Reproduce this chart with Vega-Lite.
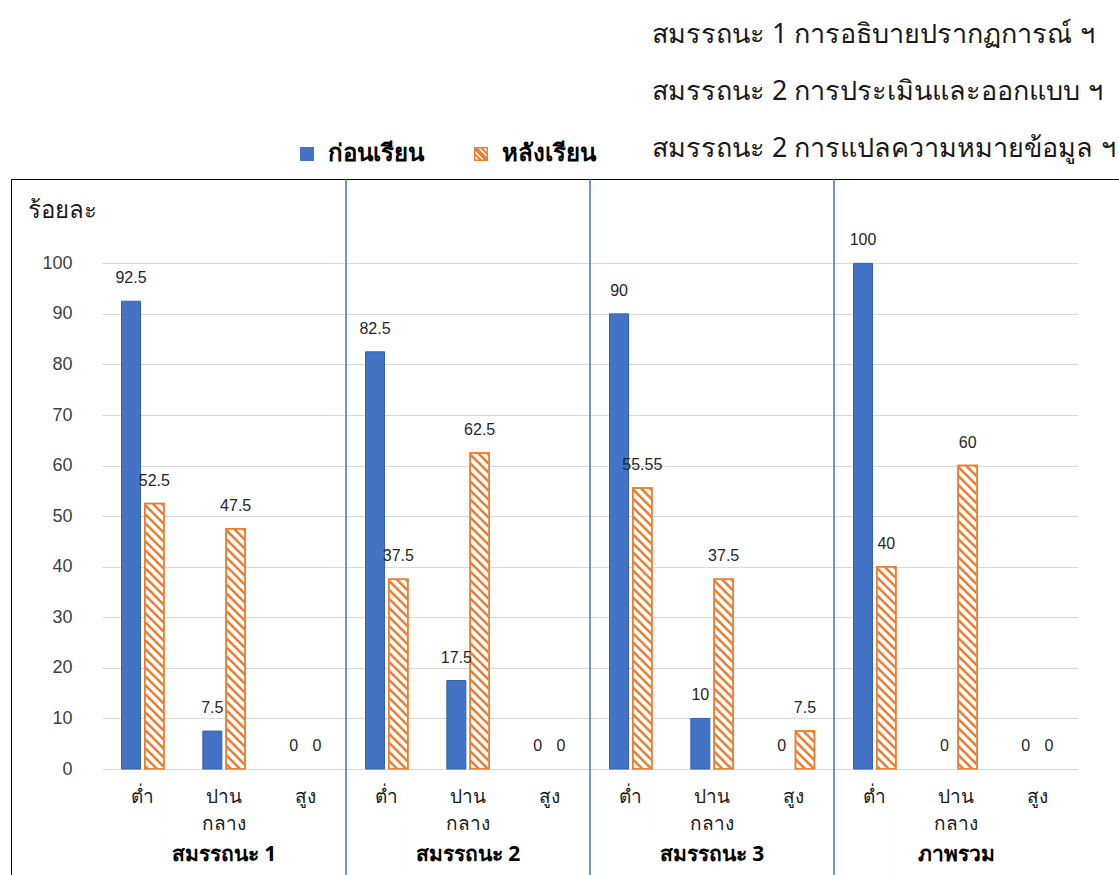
{
  "$schema": "https://vega.github.io/schema/vega-lite/v6.json",
  "width": 1108,
  "height": 696,
  "autosize": "none",
  "padding": {"left": 11, "top": 179, "right": 0, "bottom": 0},
  "background": "#ffffff",
  "config": {
    "view": {"stroke": "#000000", "strokeWidth": 1},
    "font": "Noto Sans",
    "text": {"font": "Liberation Sans"},
    "legend": {
      "orient": "none",
      "legendX": 284,
      "legendY": -37,
      "direction": "horizontal",
      "symbolSize": 196,
      "symbolStrokeWidth": 0,
      "labelFont": "Noto Sans",
      "labelFontSize": 24,
      "labelFontWeight": "bold",
      "labelColor": "#000000",
      "labelOffset": 9,
      "columnPadding": 45
    }
  },
  "title": {
    "text": [
      "สมรรถนะ 1 การอธิบายปรากฏการณ์ ฯ",
      "สมรรถนะ 2 การประเมินและออกแบบ ฯ",
      "สมรรถนะ 2 การแปลความหมายข้อมูล ฯ"
    ],
    "anchor": "start",
    "frame": "group",
    "orient": "top",
    "dx": 641,
    "dy": 69,
    "offset": 27,
    "baseline": "alphabetic",
    "fontSize": 27,
    "fontWeight": "normal",
    "font": "Noto Sans",
    "color": "#1a1a1a",
    "lineHeight": 57
  },
  "datasets": {
    "scores": [
      {"cat": "สมรรถนะ 1|ต่ำ", "series": "ก่อนเรียน", "value": 92.5},
      {"cat": "สมรรถนะ 1|ต่ำ", "series": "หลังเรียน", "value": 52.5},
      {"cat": "สมรรถนะ 1|ปาน กลาง", "series": "ก่อนเรียน", "value": 7.5},
      {"cat": "สมรรถนะ 1|ปาน กลาง", "series": "หลังเรียน", "value": 47.5},
      {"cat": "สมรรถนะ 1|สูง", "series": "ก่อนเรียน", "value": 0},
      {"cat": "สมรรถนะ 1|สูง", "series": "หลังเรียน", "value": 0},
      {"cat": "สมรรถนะ 2|ต่ำ", "series": "ก่อนเรียน", "value": 82.5},
      {"cat": "สมรรถนะ 2|ต่ำ", "series": "หลังเรียน", "value": 37.5},
      {"cat": "สมรรถนะ 2|ปาน กลาง", "series": "ก่อนเรียน", "value": 17.5},
      {"cat": "สมรรถนะ 2|ปาน กลาง", "series": "หลังเรียน", "value": 62.5},
      {"cat": "สมรรถนะ 2|สูง", "series": "ก่อนเรียน", "value": 0},
      {"cat": "สมรรถนะ 2|สูง", "series": "หลังเรียน", "value": 0},
      {"cat": "สมรรถนะ 3|ต่ำ", "series": "ก่อนเรียน", "value": 90},
      {"cat": "สมรรถนะ 3|ต่ำ", "series": "หลังเรียน", "value": 55.55},
      {"cat": "สมรรถนะ 3|ปาน กลาง", "series": "ก่อนเรียน", "value": 10},
      {"cat": "สมรรถนะ 3|ปาน กลาง", "series": "หลังเรียน", "value": 37.5},
      {"cat": "สมรรถนะ 3|สูง", "series": "ก่อนเรียน", "value": 0},
      {"cat": "สมรรถนะ 3|สูง", "series": "หลังเรียน", "value": 7.5},
      {"cat": "ภาพรวม|ต่ำ", "series": "ก่อนเรียน", "value": 100},
      {"cat": "ภาพรวม|ต่ำ", "series": "หลังเรียน", "value": 40},
      {"cat": "ภาพรวม|ปาน กลาง", "series": "ก่อนเรียน", "value": 0},
      {"cat": "ภาพรวม|ปาน กลาง", "series": "หลังเรียน", "value": 60},
      {"cat": "ภาพรวม|สูง", "series": "ก่อนเรียน", "value": 0},
      {"cat": "ภาพรวม|สูง", "series": "หลังเรียน", "value": 0}
    ],
    "dividers": [
      {"cat": "สมรรถนะ 2|ต่ำ"},
      {"cat": "สมรรถนะ 3|ต่ำ"},
      {"cat": "ภาพรวม|ต่ำ"}
    ]
  },
  "layer": [
    {
      "data": {"name": "scores"},
      "encoding": {
        "x": {
          "field": "cat",
          "type": "nominal",
          "scale": {
            "domain": [
              "สมรรถนะ 1|ต่ำ", "สมรรถนะ 1|ปาน กลาง", "สมรรถนะ 1|สูง",
              "สมรรถนะ 2|ต่ำ", "สมรรถนะ 2|ปาน กลาง", "สมรรถนะ 2|สูง",
              "สมรรถนะ 3|ต่ำ", "สมรรถนะ 3|ปาน กลาง", "สมรรถนะ 3|สูง",
              "ภาพรวม|ต่ำ", "ภาพรวม|ปาน กลาง", "ภาพรวม|สูง"
            ],
            "range": [91, 1067],
            "paddingInner": 0,
            "paddingOuter": 0
          },
          "axis": {
            "orient": "bottom",
            "offset": -106,
            "title": null,
            "labelExpr": "split(split(datum.label, '|')[1], ' ')",
            "labelAngle": 0,
            "labelPadding": 18,
            "labelFontSize": 19,
            "labelFont": "Noto Sans",
            "labelColor": "#1a1a1a",
            "labelLineHeight": 27,
            "ticks": false,
            "domain": false,
            "grid": false,
            "zindex": 1
          }
        },
        "xOffset": {
          "field": "series",
          "type": "nominal",
          "scale": {"domain": ["ก่อนเรียน", "หลังเรียน"], "paddingInner": 0.1845, "paddingOuter": 0.8376}
        },
        "y": {
          "field": "value",
          "type": "quantitative",
          "scale": {"domain": [0, 100], "range": [590, 84.3], "nice": false},
          "axis": {
            "offset": -91,
            "values": [0, 10, 20, 30, 40, 50, 60, 70, 80, 90, 100],
            "title": "ร้อยละ",
            "titleAngle": 0,
            "titleAlign": "left",
            "titleBaseline": "middle",
            "titleX": -75,
            "titleY": 31,
            "titleFont": "Noto Sans",
            "titleFontSize": 24,
            "titleFontWeight": "normal",
            "titleColor": "#1a1a1a",
            "labelFont": "Liberation Sans",
            "labelFontSize": 18,
            "labelColor": "#404040",
            "labelPadding": 30,
            "ticks": false,
            "domain": false,
            "grid": true,
            "gridColor": "#d9d9d9",
            "gridWidth": 1
          }
        }
      },
      "layer": [
        {
          "transform": [{"filter": "datum.series === 'ก่อนเรียน' && datum.value > 0"}],
          "mark": {"type": "bar", "stroke": "#3561b0", "strokeWidth": 1},
          "encoding": {
            "fill": {
              "field": "series",
              "type": "nominal",
              "scale": {"domain": ["ก่อนเรียน", "หลังเรียน"], "range": ["#4472C4", "#ED7D31"]},
              "legend": {"title": null}
            }
          }
        },
        {
          "mark": {"type": "point", "filled": true, "size": 0, "opacity": 1, "strokeWidth": 0},
          "encoding": {
            "shape": {
              "field": "series",
              "type": "nominal",
              "scale": {
                "domain": ["ก่อนเรียน", "หลังเรียน"],
                "range": [
                  "square",
                  "M-1,-1H1V1H-1Z M-0.8,-0.8V0.8H0.8V-0.8Z M-1,-1L-0.6,-1L1,0.6L1,1L0.6,1L-1,-0.6Z M-1,-0.3L0.3,1L-0.1,1L-1,0.1Z M-0.3,-1L0.1,-1L1,-0.1L1,0.3Z M-1,0.6L-0.6,1L-1,1Z M0.6,-1L1,-1L1,-0.6Z"
                ]
              },
              "legend": {"title": null}
            },
            "fill": {"field": "series", "type": "nominal", "legend": {"title": null}}
          }
        },
        {
          "transform": [{"filter": "datum.series === 'หลังเรียน' && datum.value > 0"}],
          "mark": {"type": "bar", "fill": "#ffffff", "stroke": "#ED7D31", "strokeWidth": 1.5}
        },
        {
          "transform": [{"filter": "datum.series === 'หลังเรียน' && datum.value > 0"}],
          "mark": {
            "type": "point",
            "filled": true,
            "size": 4,
            "opacity": 1,
            "clip": true,
            "strokeWidth": 0,
            "fill": "#ED7D31",
            "shape": "M-3.5,0L0,0L9,9L9,12.5Z M5.5,0L9,0L9,3.5Z M-9,0l18,18v3.5l-18,-18v-3.5z m0,9l18,18v3.5l-18,-18v-3.5z m0,9l18,18v3.5l-18,-18v-3.5z m0,9l18,18v3.5l-18,-18v-3.5z m0,9l18,18v3.5l-18,-18v-3.5z m0,9l18,18v3.5l-18,-18v-3.5z m0,9l18,18v3.5l-18,-18v-3.5z m0,9l18,18v3.5l-18,-18v-3.5z m0,9l18,18v3.5l-18,-18v-3.5z m0,9l18,18v3.5l-18,-18v-3.5z m0,9l18,18v3.5l-18,-18v-3.5z m0,9l18,18v3.5l-18,-18v-3.5z m0,9l18,18v3.5l-18,-18v-3.5z m0,9l18,18v3.5l-18,-18v-3.5z m0,9l18,18v3.5l-18,-18v-3.5z m0,9l18,18v3.5l-18,-18v-3.5z m0,9l18,18v3.5l-18,-18v-3.5z m0,9l18,18v3.5l-18,-18v-3.5z m0,9l18,18v3.5l-18,-18v-3.5z m0,9l18,18v3.5l-18,-18v-3.5z m0,9l18,18v3.5l-18,-18v-3.5z m0,9l18,18v3.5l-18,-18v-3.5z m0,9l18,18v3.5l-18,-18v-3.5z m0,9l18,18v3.5l-18,-18v-3.5z m0,9l18,18v3.5l-18,-18v-3.5z m0,9l18,18v3.5l-18,-18v-3.5z m0,9l18,18v3.5l-18,-18v-3.5z m0,9l18,18v3.5l-18,-18v-3.5z m0,9l18,18v3.5l-18,-18v-3.5z m0,9l18,18v3.5l-18,-18v-3.5z m0,9l18,18v3.5l-18,-18v-3.5z m0,9l18,18v3.5l-18,-18v-3.5z m0,9l18,18v3.5l-18,-18v-3.5z m0,9l18,18v3.5l-18,-18v-3.5z m0,9l18,18v3.5l-18,-18v-3.5z m0,9l18,18v3.5l-18,-18v-3.5z m0,9l18,18v3.5l-18,-18v-3.5z"
          }
        },
        {
          "transform": [{"filter": "datum.series === 'หลังเรียน' && datum.value > 0"}],
          "mark": {"type": "bar", "fill": "#ffffff", "clip": true},
          "encoding": {
            "y": {"datum": 0},
            "y2": {"datum": -50}
          }
        },
        {
          "transform": [{"filter": "datum.series === 'หลังเรียน' && datum.value > 0"}],
          "mark": {"type": "bar", "fill": "#ffffff", "fillOpacity": 0, "stroke": "#ED7D31", "strokeWidth": 1.5}
        },
        {
          "mark": {"type": "text", "baseline": "middle", "dy": -23, "fontSize": 16, "font": "Liberation Sans", "color": "#262626"},
          "encoding": {
            "text": {"field": "value", "type": "quantitative"}
          }
        }
      ]
    },
    {
      "data": {"name": "dividers"},
      "mark": {"type": "rule", "color": "#4472C4", "strokeWidth": 1.5, "clip": true},
      "encoding": {
        "x": {
          "field": "cat",
          "type": "nominal",
          "bandPosition": 0,
          "axis": {
            "orient": "bottom",
            "offset": -106,
            "title": null,
            "labelExpr": "indexof(datum.label, 'ปาน') >= 0 ? split(datum.label, '|')[0] : ''",
            "labelAngle": 0,
            "labelPadding": 74,
            "labelFontSize": 21,
            "labelFont": "Noto Sans",
            "labelFontWeight": "bold",
            "labelColor": "#000000",
            "labelOverlap": false,
            "ticks": false,
            "domain": false,
            "grid": false,
            "zindex": 1
          }
        },
        "y": {"datum": 200},
        "y2": {"datum": -100}
      }
    }
  ],
  "resolve": {"axis": {"x": "independent"}}
}
